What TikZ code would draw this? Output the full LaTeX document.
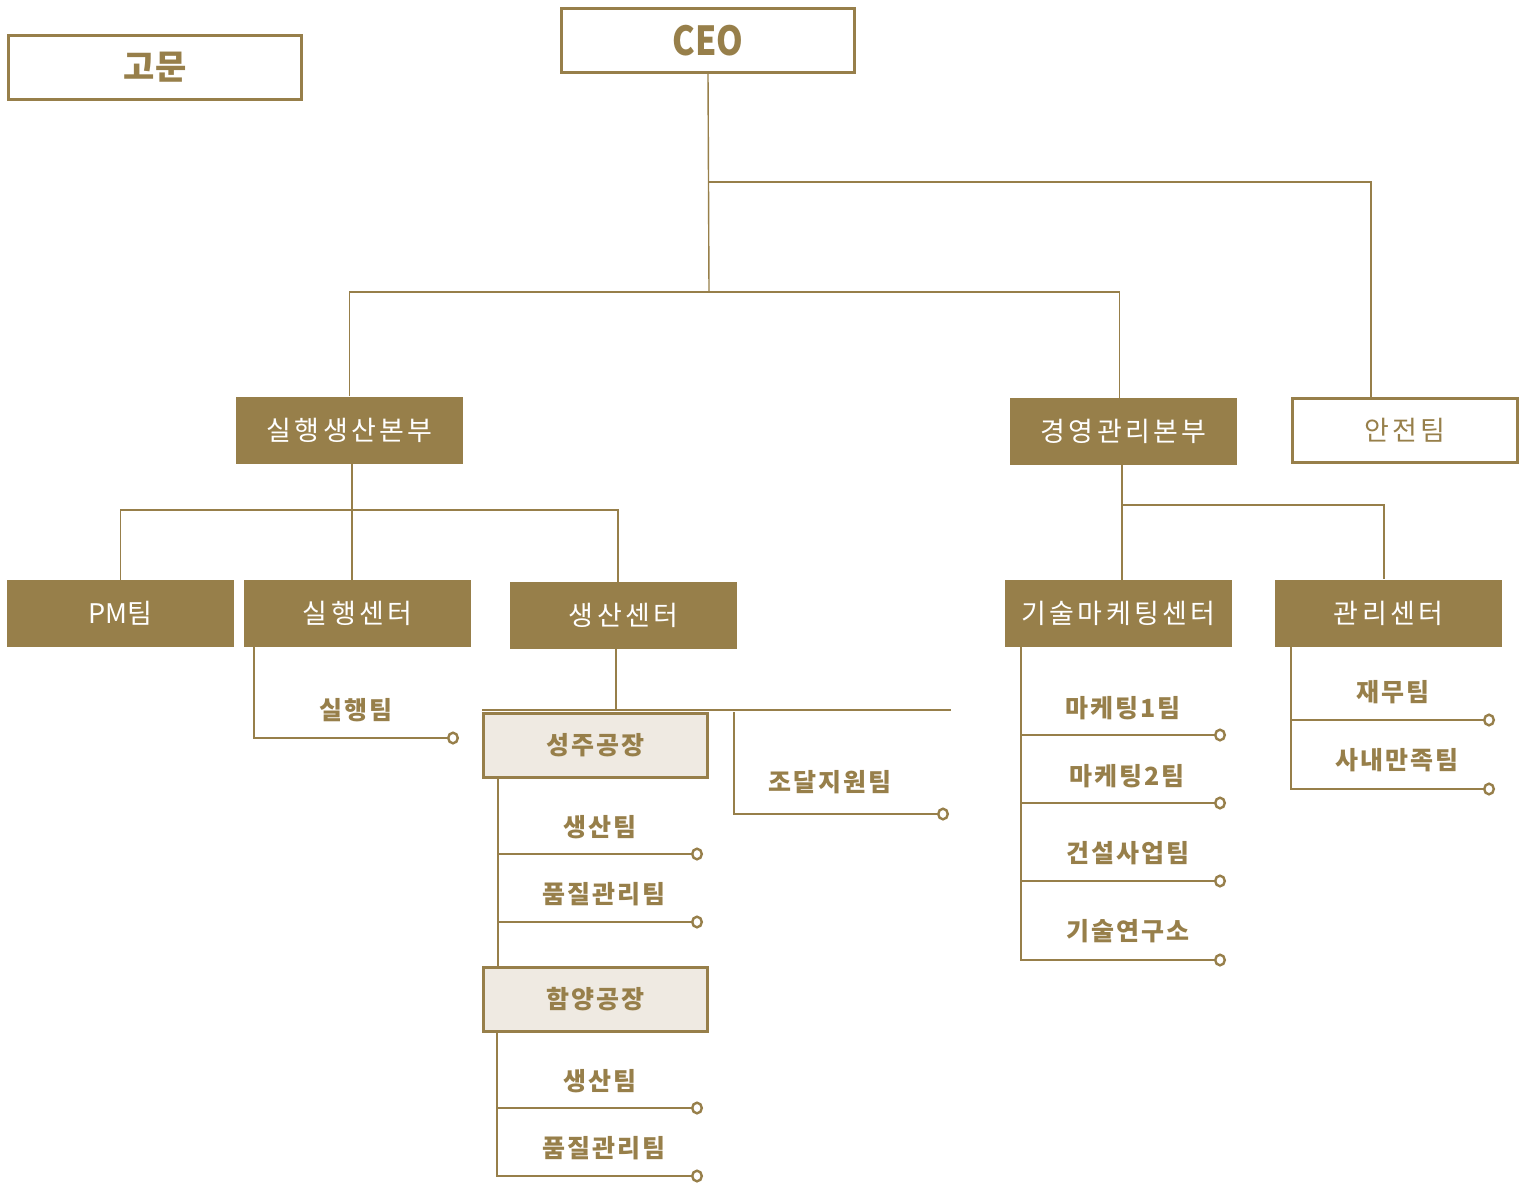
\documentclass[tikz,border=0pt]{standalone}
\usepackage{fontspec}
\usetikzlibrary{arrows.meta}
\newfontfamily\krfont{Noto Sans CJK KR}
\newfontfamily\krwide[LetterSpace=12]{Noto Sans CJK KR}
\newfontfamily\krteam[LetterSpace=8]{Noto Sans CJK KR}
\definecolor{gold}{HTML}{977F4A}
\definecolor{cream}{HTML}{EFEAE2}

\begin{document}
\begin{tikzpicture}[x=1pt, y=-1pt,
    head/.style={draw=gold, line width=2.5pt, fill=white, minimum width=293pt, minimum height=64pt, inner sep=0pt, text=gold},
    unit/.style={fill=gold, minimum width=227pt, minimum height=67pt, inner sep=0pt, text=white, font={\krwide\fontsize{27}{31}\selectfont}},
    safety/.style={draw=gold, line width=2.5pt, fill=white, minimum width=225pt, minimum height=64pt, inner sep=0pt, text=gold, font={\krwide\fontsize{27}{31}\selectfont}},
    plant/.style={draw=gold, line width=2.5pt, fill=cream, minimum width=224pt, minimum height=64pt, inner sep=0pt, text=gold, font={\krteam\bfseries\fontsize{25}{29}\selectfont}},
    team/.style={text=gold, inner sep=0pt, font={\krteam\bfseries\fontsize{25}{29}\selectfont}},
    link/.style={draw=gold, line width=1.4pt},
    pin/.style={-{Circle[open, length=12pt, width=13pt, line width=2.4pt, fill=white]}}
]
\useasboundingbox (0,0) rectangle (1525,1184);

% top
\node[head, font={\krfont\bfseries\fontsize{34}{40}\selectfont}] (adv) at (155,67.5) {고문};
\node[head, font={\krfont\bfseries\fontsize{40}{46}\selectfont}] (ceo) at (708,40.5) {\scalebox{0.85}[1]{CEO}};

% divisions
\node[unit] (hq1) at (349.5,430) {실행생산본부};
\node[unit] (hq2) at (1123.5,431.5) {경영관리본부};
\node[safety] (safe) at (1405,430.5) {안전팀};

% centers
\node[unit, font={\krfont\fontsize{27}{31}\selectfont}] (pm) at (120.5,613.5) {PM팀};
\node[unit] (execC) at (357.5,613.5) {실행센터};
\node[unit] (prod) at (623.5,615.5) {생산센터};
\node[unit] (techC) at (1118.5,613.5) {기술마케팅센터};
\node[unit] (mgmt) at (1388.5,613) {관리센터};

% plants
\node[plant] (f1) at (595.5,745.5) {성주공장};
\node[plant] (f2) at (595.5,999.5) {함양공장};

% teams
\node[team] (t1) at (356,710) {실행팀};
\node[team] (t2) at (830,782) {조달지원팀};
\node[team] (t3) at (600,827) {생산팀};
\node[team] (t4) at (604,894) {품질관리팀};
\node[team] (t5) at (600,1081) {생산팀};
\node[team] (t6) at (604,1148) {품질관리팀};
\node[team] (t7) at (1123,708) {마케팅1팀};
\node[team] (t8) at (1127,776) {마케팅2팀};
\node[team] (t9) at (1128,853) {건설사업팀};
\node[team] (t10) at (1128,931) {기술연구소};
\node[team] (t11) at (1393,692) {재무팀};
\node[team] (t12) at (1397,760) {사내만족팀};

% CEO lines
\coordinate (bar00) at (709,182);
\coordinate (bar0) at (709,292);
\coordinate (safeT) at (1371,397);
\draw[link] (ceo.south) -- (bar0);
\draw[link] (hq1.north) |- (bar0) -| ([xshift=-4pt]hq2.north);
\draw[link] (bar00) -| (safeT);

% 실행생산본부 lines
\coordinate (bar1) at (352,510);
\draw[link] ([xshift=2.5pt]hq1.south) -- ([xshift=2.5pt]hq1.south |- execC.north);
\draw[link] (pm.north) |- (bar1) -| ([xshift=-5.5pt]prod.north);

% 경영관리본부 lines
\coordinate (bar3) at (1122,505);
\draw[link] ([xshift=-1.5pt]hq2.south) -- ([xshift=-1.5pt]hq2.south |- techC.north);
\draw[link] (bar3) -| ([xshift=-4.5pt]mgmt.north);

% 실행센터
\coordinate (s1) at (254,647);
\coordinate (e1) at (459,738);
\draw[link, pin] (s1) |- (e1);

% 생산센터
\coordinate (bar2) at (616,710);
\coordinate (bar2L) at (482,710);
\coordinate (bar2R) at (951,710);
\draw[link] ([xshift=-7.5pt]prod.south) -- (bar2);
\draw[link] (bar2L) -- (bar2R);
\coordinate (s2) at (734,712);
\coordinate (e2) at (949,814);
\draw[link, pin] (s2) |- (e2);

% 성주공장
\coordinate (s3) at (498,779);
\draw[link] (s3) -- (s3 |- f2.north);
\foreach \n/\y in {a/854, b/922} {
    \coordinate (e\n) at (703,\y);
    \draw[link, pin] (e\n -| s3) -- (e\n);
}

% 함양공장
\coordinate (s4) at (497,1033);
\coordinate (ec) at (703,1108);
\coordinate (ed) at (703,1176);
\draw[link, pin] (s4) |- (ed);
\draw[link, pin] (ec -| s4) -- (ec);

% 기술마케팅센터
\coordinate (s5) at (1021,647);
\coordinate (eh) at (1226,960);
\draw[link, pin] (s5) |- (eh);
\foreach \n/\y in {e/735, f/803, g/881} {
    \coordinate (e\n) at (1226,\y);
    \draw[link, pin] (e\n -| s5) -- (e\n);
}

% 관리센터
\coordinate (s6) at (1291,647);
\coordinate (ei) at (1495,720);
\coordinate (ej) at (1495,789);
\draw[link, pin] (s6) |- (ej);
\draw[link, pin] (ei -| s6) -- (ei);
\end{tikzpicture}
\end{document}
